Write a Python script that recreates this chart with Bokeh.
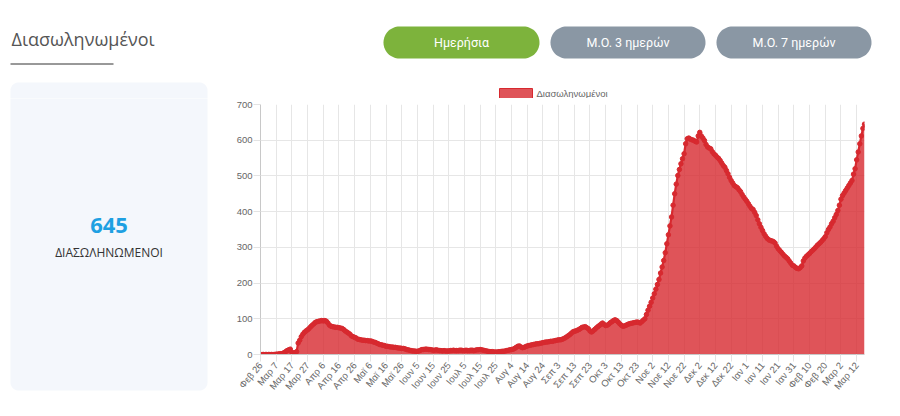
import math
import numpy as np
from bokeh.plotting import figure
from bokeh.layouts import column, row
from bokeh.models import Range1d, FixedTicker, ColumnDataSource
from bokeh.core.properties import value
from bokeh.embed import file_html
from bokeh.resources import INLINE

# ---------------- data (daily intubated patients, 26 Feb 2020 -> 17 Mar 2021) -------------
feb_2020 = [0, 0, 0, 0]
mar_2020 = [0, 0, 0, 0, 0, 0, 1, 1, 2, 2,
            3, 5, 8, 11, 13, 15, 6, 4, 5, 8,
            32, 40, 50, 57, 62, 66, 69, 73, 78, 82, 86]
apr_2020 = [90, 92, 93, 94, 95, 94, 95, 93, 88, 82,
            79, 78, 77, 76, 76, 75, 74, 73, 70, 66,
            63, 60, 57, 52, 50, 48, 46, 43, 42, 41]
may_2020 = [40, 40, 39, 39, 38, 38, 37, 35, 34, 32,
            30, 28, 27, 26, 25, 23, 23, 22, 21, 21,
            20, 20, 19, 18, 18, 17, 17, 16, 14, 13, 12]
jun_2020 = [11, 10, 10, 9, 9, 10, 12, 14, 14, 15,
            15, 14, 14, 13, 12, 12, 13, 12, 11, 11,
            10, 11, 10, 10, 10, 11, 11, 12, 11, 11]
jul_2020 = [11, 12, 12, 11, 11, 12, 11, 11, 12, 12,
            11, 12, 13, 13, 14, 13, 12, 11, 10, 9,
            8, 8, 8, 7, 7, 7, 8, 8, 9, 9, 10]
aug_2020 = [11, 12, 13, 14, 15, 17, 20, 23, 24, 21,
            19, 20, 22, 24, 25, 26, 27, 28, 29, 30,
            30, 31, 32, 33, 34, 35, 35, 36, 37, 37, 38]
sep_2020 = [39, 40, 41, 41, 42, 44, 46, 49, 52, 55,
            59, 63, 65, 66, 68, 70, 73, 76, 77, 78,
            75, 72, 66, 63, 66, 70, 74, 78, 81, 85]
oct_2020 = [88, 84, 81, 82, 85, 89, 92, 95, 97, 95,
            91, 86, 82, 79, 80, 82, 84, 86, 87, 88,
            89, 90, 91, 90, 88, 92, 96, 100, 112, 124, 135]
nov_2020 = [146, 158, 170, 183, 196, 210, 228, 245, 263, 285,
            310, 335, 360, 385, 418, 450, 477, 501, 518, 534,
            548, 562, 590, 604, 606, 603, 601, 600, 597, 595]
dec_2020 = [612, 622, 612, 606, 599, 588, 581, 578, 576, 568,
            562, 558, 553, 549, 543, 536, 529, 524, 515, 506,
            496, 487, 480, 473, 470, 467, 461, 456, 448, 441, 435]
jan_2021 = [429, 422, 415, 409, 406, 398, 389, 377, 366, 356,
            347, 338, 331, 325, 321, 319, 318, 316, 312, 303,
            296, 291, 286, 281, 276, 272, 268, 262, 256, 250, 248]
feb_2021 = [244, 241, 240, 243, 248, 262, 270, 275, 279, 283,
            288, 292, 296, 301, 306, 310, 314, 319, 324, 330,
            341, 350, 357, 366, 373, 383, 392, 403]
mar_2021 = [418, 435, 445, 452, 459, 466, 473, 480, 487, 505,
            520, 545, 567, 590, 612, 633, 645]

# x tick labels, one every 10 days starting at 26 Feb 2020
tick_labels = ["Φεβ 26", "Μαρ 7", "Μαρ 17", "Μαρ 27", "Απρ 6", "Απρ 16", "Απρ 26",
               "Μαϊ 6", "Μαϊ 16", "Μαϊ 26", "Ιουν 5", "Ιουν 15", "Ιουν 25",
               "Ιουλ 5", "Ιουλ 15", "Ιουλ 25", "Αυγ 4", "Αυγ 14", "Αυγ 24",
               "Σεπ 3", "Σεπ 13", "Σεπ 23", "Οκτ 3", "Οκτ 13", "Οκτ 23",
               "Νοε 2", "Νοε 12", "Νοε 22", "Δεκ 2", "Δεκ 12", "Δεκ 22",
               "Ιαν 1", "Ιαν 11", "Ιαν 21", "Ιαν 31", "Φεβ 10", "Φεβ 20",
               "Μαρ 2", "Μαρ 12"]
y_ticks = [0, 100, 200, 300, 400, 500, 600, 700]

series_name = "Διασωληνωμένοι"
page_title = "Διασωληνωμένοι"
buttons = ["Ημερήσια", "Μ.Ο. 3 ημερών", "Μ.Ο. 7 ημερών"]
latest_value = "645"
latest_caption = "ΔΙΑΣΩΛΗΝΩΜΕΝΟΙ"

values = (feb_2020 + mar_2020 + apr_2020 + may_2020 + jun_2020 + jul_2020 + aug_2020 +
          sep_2020 + oct_2020 + nov_2020 + dec_2020 + jan_2021 + feb_2021 + mar_2021)
days = list(range(len(values)))

RED = "#d7292f"
CARD = "#f4f7fc"
TICK_FONT = "Liberation Sans"
TOP_H = 98      # height of the header strip (page px)


def rounded_rect(x0, x1, y0, y1, r, n=12):
    """outline of a rounded rectangle in page-pixel coords (y grows downward)."""
    xs, ys = [], []
    corners = [(x1 - r, y0 + r, -90, 0), (x1 - r, y1 - r, 0, 90),
               (x0 + r, y1 - r, 90, 180), (x0 + r, y0 + r, 180, 270)]
    for cx, cy, a0, a1 in corners:
        for a in np.linspace(math.radians(a0), math.radians(a1), n):
            xs.append(cx + r * math.cos(a))
            ys.append(cy + r * math.sin(a))
    return xs, ys


def blank(fig):
    fig.outline_line_color = None
    fig.background_fill_color = "white"
    fig.border_fill_color = "white"
    fig.grid.visible = False


card_xs, card_ys = rounded_rect(10, 207, 82, 390, 8)

# ---------------- header strip: title, buttons, legend ----------------
top = figure(width=900, height=TOP_H, x_range=Range1d(0, 900), y_range=Range1d(TOP_H, 0),
             x_axis_location=None, y_axis_location=None, output_backend="svg",
             toolbar_location=None, min_border=0)
blank(top)
top.patch(card_xs, card_ys, fill_color=CARD, line_color=None)   # upper part of the card
top.text(x=[11], y=[38], text=[page_title], text_font=value("Open Sans"),
         text_font_size="18px", text_color="#555555", text_baseline="alphabetic")
top.segment(x0=[10], y0=[63.5], x1=[113], y1=[63.5], line_color="#333333", line_width=1)

btn_x0 = [383, 550, 716]
btn_x1 = [539, 705, 871]
btn_colors = ["#7db33c", "#8a97a4", "#8a97a4"]
pxs, pys = [], []
for a, b in zip(btn_x0, btn_x1):
    xs, ys = rounded_rect(a, b, 26, 58, 16, 16)
    pxs.append(xs)
    pys.append(ys)
top.patches(pxs, pys, fill_color=btn_colors, line_color=None)
top.text(x=[(a + b) / 2 for a, b in zip(btn_x0, btn_x1)], y=[42] * 3, text=buttons,
         text_align="center", text_baseline="middle", text_color="white",
         text_font=value("Roboto"), text_font_size="12.5px")

# legend of the chart (swatch + label)
top.quad(left=[499], right=[532], top=[88], bottom=[98], fill_color=RED, fill_alpha=0.8,
         line_color=RED, line_width=1)
top.text(x=[536], y=[93], text=[series_name], text_baseline="middle",
         text_font=value(TICK_FONT), text_font_size="9.5px", text_color="#666666")

# ---------------- left card ----------------
BODY_H = 416 - TOP_H
card = figure(width=220, height=BODY_H, x_range=Range1d(0, 220), y_range=Range1d(416, TOP_H),
              x_axis_location=None, y_axis_location=None, output_backend="svg",
              toolbar_location=None, min_border=0)
blank(card)
card.patch(card_xs, card_ys, fill_color=CARD, line_color=None)
card.text(x=[108.5], y=[225], text=[latest_value], text_align="center", text_baseline="middle",
          text_font=value("Open Sans"), text_font_style="bold", text_font_size="22px",
          text_color="#1ea0e2")
card.text(x=[108.5], y=[252], text=[latest_caption], text_align="center", text_baseline="middle",
          text_font=value("Open Sans"), text_font_size="12px", text_color="#333333")

# ---------------- chart ----------------
src = ColumnDataSource(dict(d=days, v=values))
chart = figure(width=680, height=BODY_H, x_range=Range1d(0, len(values) - 1),
               y_range=Range1d(0, 700), output_backend="svg", toolbar_location=None,
               min_border_left=40, min_border_right=36, min_border_top=104 - TOP_H,
               min_border_bottom=62)
chart.outline_line_color = None
chart.background_fill_color = "white"
chart.border_fill_color = "white"

chart.varea(x="d", y1=0, y2="v", source=src, fill_color=RED, fill_alpha=0.8)
chart.line(x="d", y="v", source=src, line_color=RED, line_width=2.2)
chart.scatter(x="d", y="v", source=src, size=4.5, fill_color=RED, line_color=RED)

xt = FixedTicker(ticks=[i * 10 for i in range(len(tick_labels))])
chart.xaxis.ticker = xt
chart.xgrid.ticker = xt
chart.xaxis.major_label_overrides = {i * 10: lab for i, lab in enumerate(tick_labels)}
chart.xaxis.major_label_orientation = math.radians(50)
yt = FixedTicker(ticks=y_ticks)
chart.yaxis.ticker = yt
chart.ygrid.ticker = yt

for ax in (chart.xaxis, chart.yaxis):
    ax.axis_line_color = "#c8c8c8"
    ax.major_tick_line_color = "#e3e3e3"
    ax.major_tick_out = 7
    ax.major_tick_in = 0
    ax.minor_tick_line_color = None
    ax.major_label_text_font = TICK_FONT
    ax.major_label_text_font_size = "9.5px"
    ax.major_label_text_color = "#666666"
chart.xaxis.major_label_standoff = 2
chart.yaxis.major_label_standoff = 1
chart.grid.grid_line_color = "#e6e6e6"

# card wrapped in its own column so that its frame is not aligned to the chart's frame
layout = column(top, row(column(card, spacing=0), chart, spacing=0), spacing=0)
open("out.html", "w").write(file_html(layout, INLINE, title=page_title))
